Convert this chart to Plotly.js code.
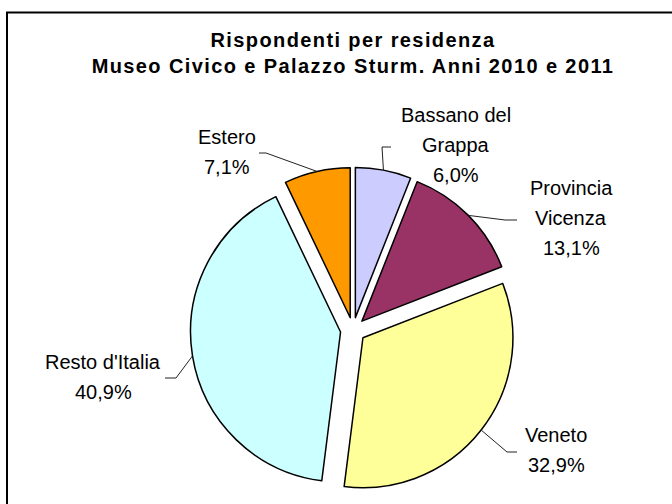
<!DOCTYPE html>
<html>
<head>
<meta charset="utf-8">
<script src="https://cdn.plot.ly/plotly-3.0.1.min.js"></script>
<style>
html,body{margin:0;padding:0;background:#fff;}
#chart{width:672px;height:504px;}
.gtitle{letter-spacing:1.4px;}
</style>
</head>
<body>
<div id="chart"></div>
<script>
// ---- data ----
const categories = ["Bassano del Grappa", "Provincia Vicenza", "Veneto", "Resto d'Italia", "Estero"];
const labelLines = [["Bassano del", "Grappa"], ["Provincia", "Vicenza"], ["Veneto"], ["Resto d'Italia"], ["Estero"]];
const percentages = [6.0, 13.1, 32.9, 40.9, 7.1];
const sliceColors = ["#CCCCFF", "#993366", "#FFFF99", "#CCFFFF", "#FF9900"];
const titleLines = ["Rispondenti per residenza", "Museo Civico e Palazzo Sturm. Anni 2010 e 2011"];

// ---- layout constants (pixels in the 672x504 page) ----
const W = 672, H = 504;
const pieCenter = [353, 330];
const pieHalf = 162.6;          // half of the pie domain box
const pullFrac = 0.084;
const labelAnchors = [[456, 115], [571, 188], [556, 435], [103, 362], [227, 137]];
const leaderElbows = [[382, 147], [505, 220], [507, 452], [176, 378], [266, 153]];
const leaderEnds = [[391, 147], [517, 220], [517, 452], [165, 378], [259, 153]];
const lineStep = 30;
const FONT = "Liberation Sans, Arial, sans-serif";

const px = x => x / W;
const py = y => 1 - y / H;

const fmtPct = v => v.toFixed(1).replace('.', ',') + '%';

const total = percentages.reduce((a, b) => a + b, 0);
let cum = 0;
const annotations = [];
const shapes = [];

// frame
shapes.push({type: 'rect', xref: 'paper', yref: 'paper',
  x0: px(7), x1: 1.05, y0: py(12.5), y1: -0.05,
  line: {color: '#000', width: 2}, fillcolor: 'rgba(0,0,0,0)'});

percentages.forEach((v, i) => {
  const mid = (cum + v / 2) / total * 2 * Math.PI;
  cum += v;
  const ax = pieCenter[0] + pieHalf * Math.sin(mid);
  const ay = pieCenter[1] - pieHalf * Math.cos(mid);
  const e = leaderElbows[i], t = leaderEnds[i];
  shapes.push({type: 'path', xref: 'paper', yref: 'paper',
    path: `M ${px(ax)},${py(ay)} L ${px(e[0])},${py(e[1])} L ${px(t[0])},${py(t[1])}`,
    line: {color: '#222', width: 1}});
  const lines = labelLines[i].concat([fmtPct(v)]);
  lines.forEach((txt, k) => {
    annotations.push({xref: 'paper', yref: 'paper',
      x: px(labelAnchors[i][0]), y: py(labelAnchors[i][1] + k * lineStep),
      xanchor: 'center', yanchor: 'middle', showarrow: false,
      text: txt, font: {family: FONT, size: 20, color: '#000'}});
  });
});

const data = [{
  type: 'pie',
  labels: categories,
  values: percentages,
  sort: false,
  direction: 'clockwise',
  rotation: 0,
  pull: pullFrac,
  textinfo: 'none',
  hoverinfo: 'label+percent',
  marker: {colors: sliceColors, line: {color: '#000', width: 1.5}},
  domain: {
    x: [px(pieCenter[0] - pieHalf), px(pieCenter[0] + pieHalf)],
    y: [py(pieCenter[1] + pieHalf), py(pieCenter[1] - pieHalf)]
  },
  showlegend: false
}];

const layout = {
  width: W, height: H,
  margin: {l: 0, r: 0, t: 0, b: 0},
  paper_bgcolor: '#fff',
  plot_bgcolor: '#fff',
  showlegend: false,
  title: {
    text: titleLines.join('<br>'),
    font: {family: FONT, size: 20, color: '#000', weight: 'bold'},
    x: px(353), xanchor: 'center', xref: 'paper',
    y: py(46.5), yanchor: 'middle', yref: 'container'
  },
  shapes: shapes,
  annotations: annotations
};

Plotly.newPlot('chart', data, layout, {displayModeBar: false, staticPlot: true});
</script>
</body>
</html>
